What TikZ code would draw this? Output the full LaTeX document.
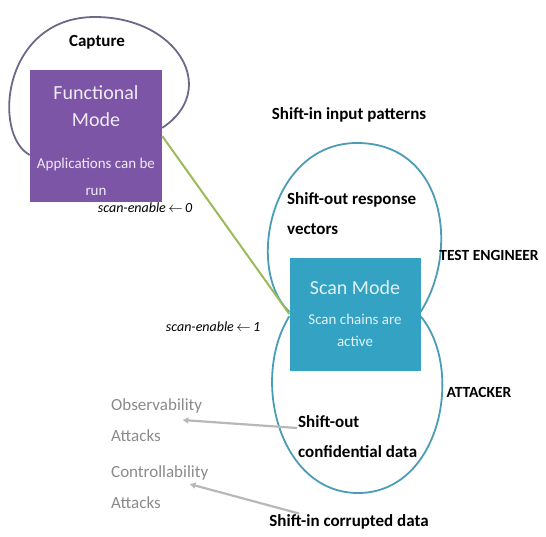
\documentclass[tikz,border=0pt]{standalone}
\usepackage{fontspec}
\setmainfont{Carlito}
\usetikzlibrary{arrows.meta}

\definecolor{fmfill}{HTML}{7D55A6}
\definecolor{smfill}{HTML}{34A2C2}
\definecolor{caploop}{HTML}{6D6888}
\definecolor{scanloop}{HTML}{4A9DB5}
\definecolor{linkgreen}{HTML}{9BBB59}
\definecolor{atkgray}{HTML}{8A8A8A}

\newcommand\modetitle{\fontsize{20}{26}\selectfont}
\newcommand\modenote{\fontsize{15}{24}\selectfont}

\begin{document}
\begin{tikzpicture}[
    x=1pt, y=-1pt,
    fmbox/.style  = {fill=fmfill, text=fmfill!12, align=center, inner sep=0pt,
                     font=\fontsize{15}{27}\selectfont,
                     minimum width=132pt, minimum height=132pt},
    smbox/.style  = {fill=smfill, text=smfill!15, align=center, inner sep=0pt,
                     font=\fontsize{15}{22}\selectfont,
                     minimum width=131pt, minimum height=113pt},
    lbl/.style    = {font=\fontsize{17}{30}\selectfont\bfseries, inner sep=1pt},
    role/.style   = {font=\fontsize{15.5}{18}\selectfont\bfseries, inner sep=1pt},
    atk/.style    = {font=\fontsize{17}{31}\selectfont, text=atkgray, align=left, inner sep=1pt},
    sel/.style    = {font=\fontsize{14}{16}\selectfont\itshape, inner sep=1pt},
    caploopline/.style  = {draw=caploop, line width=1.8pt},
    scanloopline/.style = {draw=scanloop, line width=1.8pt},
    modelink/.style     = {draw=linkgreen, line width=2pt},
    leak/.style   = {draw=black!28, line width=2.2pt, -{Latex[length=6pt,width=7pt]}},
  ]
    \useasboundingbox (0,0) rectangle (546,536);

    % --- the two modes ---
    \node[fmbox] (fm) at (96,136)
      {\modetitle\rule{0pt}{24pt}Functional\\\modetitle Mode\\[15pt]
       \modenote Applications can be\\\modenote run};
    \node[smbox] (sm) at (355,314)
      {\modetitle Scan Mode\\[8pt]
       \modenote Scan chains are\\\modenote active};

    % --- loops round the modes ---
    \path[caploopline] (fm.196) .. controls (-8,135) and (2,17) .. (95,17)
      .. controls (178,17) and (220,90) .. (fm.7);
    \path[scanloopline] (sm.178) .. controls (245,270) and (270,143) .. (357,143)
      .. controls (445,143) and (460,250) .. (sm.2);
    \path[scanloopline] (sm.182) .. controls (250,380) and (280,493) .. (358,493)
      .. controls (440,493) and (465,370) .. (sm.358);
    \path[modelink] (fm.east) -- (sm.west);

    % --- labels ---
    \node[lbl] (cap) at (97,42) {Capture};
    \node[sel] (se0) at (145,208) {scan-enable\,$\leftarrow$\,0};
    \node[sel] (se1) at (213,327) {scan-enable\,$\leftarrow$\,1};
    \node[lbl] (sip) at (349,115) {Shift-in input patterns};
    \node[lbl, align=left, anchor=west] (sor) at (286,214) {Shift-out response\\vectors};
    \node[role] (te) at (489,255) {TEST ENGINEER};
    \node[role] (att) at (479,392) {ATTACKER};
    \node[lbl, align=left, anchor=west] (sod) at (297,437) {Shift-out\\confidential data};
    \node[lbl] (sic) at (349,522) {Shift-in corrupted data};
    \node[atk, anchor=west] (obs) at (110,420) {Observability\\Attacks};
    \node[atk, anchor=west] (ctl) at (110,487) {Controllability\\Attacks};

    % --- what the attacker gets out of it ---
    \draw[leak] ([yshift=9pt]sod.west) -- ([xshift=-21pt]obs.east);
    \draw[leak] ([xshift=-50pt]sic.north) -- ([xshift=-20pt,yshift=3pt]ctl.east);
  \end{tikzpicture}
\end{document}
